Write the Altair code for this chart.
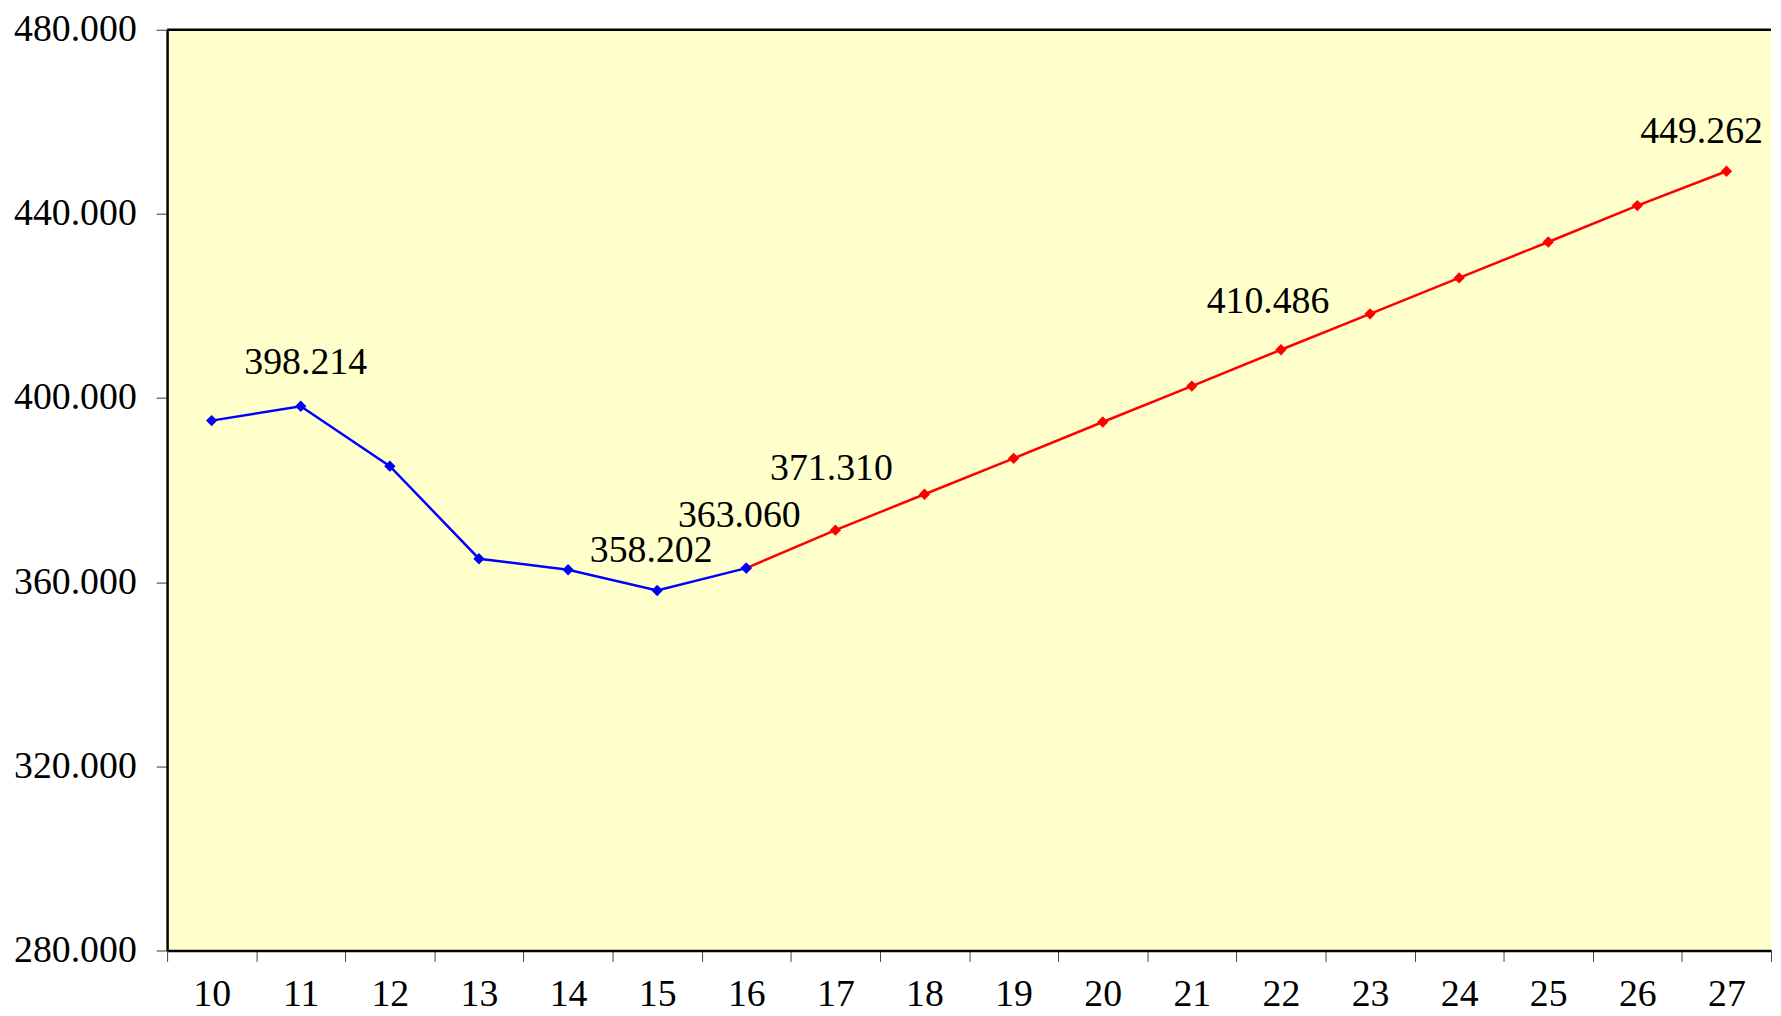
import altair as alt
import pandas as pd

years = [10, 11, 12, 13, 14, 15, 16, 17, 18, 19, 20, 21, 22, 23, 24, 25, 26, 27]
actual_years = [10, 11, 12, 13, 14, 15, 16]
actual_values = [395.1, 398.214, 385.2, 365.1, 362.7, 358.202, 363.060]
forecast_years = [16, 17, 18, 19, 20, 21, 22, 23, 24, 25, 26, 27]
forecast_values = [363.060, 371.310, 379.1, 386.9, 394.8, 402.6, 410.486, 418.3, 426.1, 433.9, 441.8, 449.262]
label_years = [11, 15, 16, 17, 22, 27]
label_values = [398.214, 358.202, 363.060, 371.310, 410.486, 449.262]
y_ticks = [280, 320, 360, 400, 440, 480]
y_top = [480]

# label placement (style): offset of each value label from its point, in px
label_offsets = {11: (5, -43), 15: (-6, -40), 16: (-7, -52), 17: (-4, -61), 22: (-13, -48), 27: (-25, -39)}

FONT = "Liberation Serif"
FS = 38

blue_df = pd.DataFrame({"year": actual_years, "value": actual_values})
red_df = pd.DataFrame({"year": forecast_years, "value": forecast_values})
lab_df = pd.DataFrame({"year": label_years, "value": label_values})

x_scale = alt.Scale(type="band", domain=years, paddingInner=0, paddingOuter=0)
y_scale = alt.Scale(domain=[280, 480], nice=False, zero=False)

x_enc = alt.X(
    "year:O",
    bandPosition=0.5,
    scale=x_scale,
    axis=alt.Axis(
        title=None, labelAngle=0, tickBand="extent", tickSize=11, tickColor="#444",
        labelPadding=14, labelFont=FONT, labelFontSize=FS, labelColor="black",
        domain=True, domainColor="black", domainWidth=2.5, grid=False,
    ),
)
y_enc = alt.Y(
    "value:Q",
    scale=y_scale,
    axis=alt.Axis(
        title=None, values=y_ticks, format=".3f", tickSize=11, tickColor="#333",
        labelPadding=20, labelFont=FONT, labelFontSize=FS, labelColor="black",
        domain=True, domainColor="black", domainWidth=2.5, grid=False,
    ),
)

def series(df, color):
    line = alt.Chart(df).mark_line(color=color, strokeWidth=2.5).encode(x=x_enc, y=y_enc)
    pts = alt.Chart(df).mark_point(shape="diamond", filled=True, color=color, size=130, opacity=1).encode(x=x_enc, y=y_enc)
    return line + pts

top_rule = alt.Chart(pd.DataFrame({"value": y_top})).mark_rule(color="black", strokeWidth=2.5).encode(y=y_enc)

label_layers = []
for yr in label_years:
    dx, dy = label_offsets[yr]
    label_layers.append(
        alt.Chart(lab_df[lab_df["year"] == yr]).mark_text(
            font=FONT, fontSize=FS, color="black", dx=dx, dy=dy, baseline="middle", align="center"
        ).encode(x=x_enc, y=y_enc, text=alt.Text("value:Q", format=".3f"))
    )

chart = alt.layer(
    series(red_df, "#FF0000"), series(blue_df, "#0000FF"), top_rule, *label_layers
).properties(
    width=1613, height=926, padding={"left": 5, "top": 0, "right": 0, "bottom": 0}, background="white"
).configure_view(fill="#FFFFCC", stroke=None)

chart.save("out.html", embed_options={"renderer": "svg", "actions": False})
